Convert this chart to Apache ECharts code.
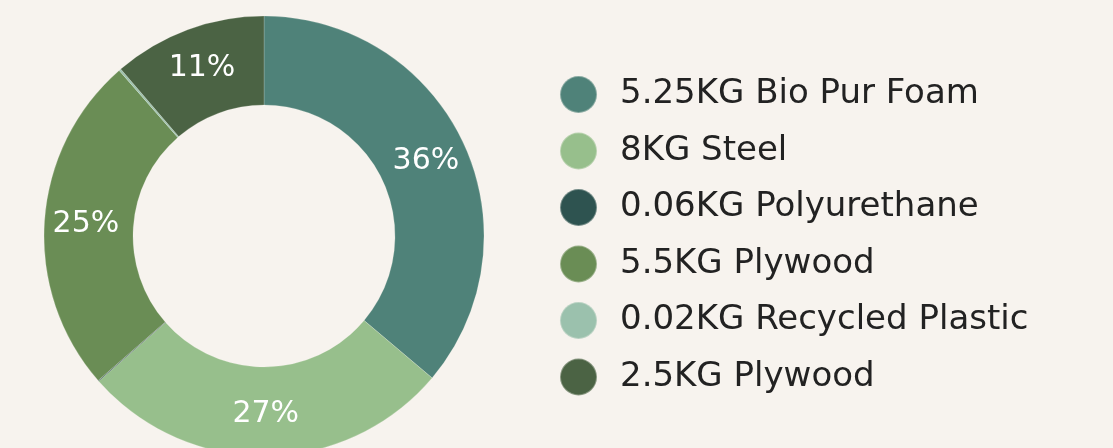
<!DOCTYPE html>
<html><head><meta charset="utf-8">
<script src="https://cdn.jsdelivr.net/npm/echarts@6/dist/echarts.min.js"></script>
<style>html,body{margin:0;padding:0;background:#f7f3ee;}#c{width:1113px;height:448px;}</style>
</head><body><div id="c"></div>
<script>
const categories = ['5.25KG Bio Pur Foam','8KG Steel','0.06KG Polyurethane','5.5KG Plywood','0.02KG Recycled Plastic','2.5KG Plywood'];
const values = [36.2, 27.4, 0.06, 25.0, 0.15, 11.3];
const colors = ['#4f8279','#97bf8c','#2e5350','#6a8d55','#9bc1ad','#4b6344'];

const chart = echarts.init(document.getElementById('c'), null, {renderer:'canvas'});
chart.setOption({
  backgroundColor:'#f7f3ee',
  animation:false,
  color: colors,
  legend:{
    orient:'vertical', left:554, top:70,
    icon:'circle', itemWidth:37, itemHeight:37, itemGap:17.5,
    textStyle:{fontFamily:'DejaVu Sans', fontSize:34, color:'#222222', padding:[0,0,0,18], lineHeight:37},
    data: categories
  },
  series:[{
    type:'pie',
    center:[264,236],
    radius:[131,220],
    startAngle:90,
    clockwise:true,
    avoidLabelOverlap:false,
    itemStyle:{borderColor:'rgba(247,243,238,0.35)', borderWidth:0.6},
    label:{
      position:'inside', color:'#ffffff', fontFamily:'DejaVu Sans', fontSize:30,
      formatter: p => p.percent < 1 ? '' : Math.round(p.percent) + '%'
    },
    labelLine:{show:false},
    emphasis:{disabled:true},
    data: categories.map((n,i)=>({name:n, value:values[i]}))
  }]
});
</script></body></html>
